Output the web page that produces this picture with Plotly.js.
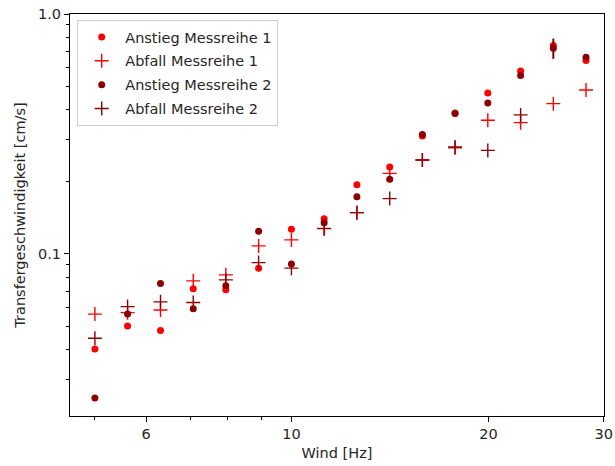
<!DOCTYPE html>
<html>
<head>
<meta charset="utf-8">
<script src="https://cdn.plot.ly/plotly-3.0.1.min.js"></script>
<style>html,body{margin:0;padding:0;background:#fff;}#chart{width:615px;height:466px;}</style>
</head>
<body>
<div id="chart"></div>
<script>
// Wind frequencies [Hz]
const wind = [5.01, 5.62, 6.31, 7.08, 7.94, 8.91, 10.0, 11.22, 12.59, 14.13, 15.85, 17.78, 19.95, 22.39, 25.12, 28.18];
const windAbfall2 = [5.01, 5.62, 6.31, 7.08, 7.94, 8.91, 10.0, 11.22, 12.59, 14.13, 15.85, 17.78, 19.95, 22.39];

// Transfergeschwindigkeit [cm/s]
const anstieg1 = [0.0401, 0.0501, 0.0479, 0.0715, 0.0708, 0.0872, 0.1266, 0.140, 0.1944, 0.2305, 0.310, 0.387, 0.469, 0.579, 0.739, 0.640];
const anstieg1Err = [0, 0, 0, 0, 0, 0, 0, 0, 0, 0, 0, 0, 0, 0, 0.025, 0];
const abfall1 = [0.0561, 0.0569, 0.0584, 0.0772, 0.0818, 0.108, 0.1144, 0.1277, 0.1486, 0.2165, 0.2464, 0.2766, 0.3606, 0.3524, 0.4229, 0.4825];
const anstieg2 = [0.0251, 0.0562, 0.0752, 0.0590, 0.0736, 0.1243, 0.0908, 0.135, 0.1732, 0.2048, 0.3147, 0.385, 0.4258, 0.5544, 0.7197, 0.6601];
const anstieg2Err = [0, 0, 0, 0, 0, 0, 0, 0, 0, 0, 0, 0, 0, 0, 0.07, 0];
const abfall2 = [0.0445, 0.0603, 0.0631, 0.0627, 0.0779, 0.092, 0.0872, 0.1274, 0.1486, 0.170, 0.2464, 0.279, 0.270, 0.3796];

const names = ['Anstieg Messreihe 1', 'Abfall Messreihe 1', 'Anstieg Messreihe 2', 'Abfall Messreihe 2'];
const xTickVals = [6, 10, 20, 30];
const xTickText = ['6', '10', '20', '30'];
const xMinor = [5, 7, 8, 9];
const yTickVals = [0.1, 1];
const yTickText = ['0.1', '1.0'];
const yMinor = [0.03, 0.04, 0.05, 0.06, 0.07, 0.08, 0.09, 0.2, 0.3, 0.4, 0.5, 0.6, 0.7, 0.8, 0.9];

const RED = '#ff0000', DARK = '#8b0000';
const FONT = 'DejaVu Sans, sans-serif';

function dotTrace(x, y, err, name, color, grp) {
  return {
    x: x, y: y, name: name, type: 'scatter', mode: 'markers', legendgroup: grp,
    marker: {symbol: 'circle', size: 7, color: color},
    error_y: {type: 'data', array: err, visible: true, color: color, thickness: 2, width: 0}
  };
}
function plusTrace(x, y, name, color, grp) {
  return {
    x: x, y: y, name: name, type: 'scatter', mode: 'markers', legendgroup: grp,
    marker: {symbol: 'cross-thin', size: 10, color: color, line: {color: color, width: 1.4}}
  };
}

const data = [
  dotTrace(wind, anstieg1, anstieg1Err, names[0], RED, 'a'),
  plusTrace(wind, abfall1, names[1], RED, 'b'),
  dotTrace(wind, anstieg2, anstieg2Err, names[2], DARK, 'c'),
  plusTrace(windAbfall2, abfall2, names[3], DARK, 'd')
];

const axisCommon = {
  type: 'log', showgrid: false, zeroline: false,
  showline: true, linecolor: '#000', linewidth: 1, mirror: true,
  ticks: 'outside', ticklen: 5, tickwidth: 1, tickcolor: '#000',
  tickmode: 'array', ticklabeloverflow: 'allow',
  tickfont: {family: FONT, size: 14.5, color: '#262626'}
};

const layout = {
  width: 615, height: 466,
  margin: {l: 70, r: 11, t: 14, b: 50},
  paper_bgcolor: '#fff', plot_bgcolor: '#fff',
  font: {family: FONT, size: 14.5, color: '#262626'},
  showlegend: true,
  legend: {
    x: 0.0135, y: 0.985, xanchor: 'left', yanchor: 'top',
    bgcolor: 'rgba(255,255,255,0.8)', bordercolor: '#cccccc', borderwidth: 1,
    font: {family: FONT, size: 14.5, color: '#262626'},
    traceorder: 'grouped', tracegroupgap: 2, itemwidth: 37
  },
  xaxis: Object.assign({}, axisCommon, {
    range: [Math.log10(4.59), Math.log10(30.02)],
    tickvals: xTickVals, ticktext: xTickText,
    minor: {tickvals: xMinor, ticks: 'outside', ticklen: 3, tickwidth: 1, tickcolor: '#000', showgrid: false},
    title: {text: 'Wind [Hz]', font: {family: FONT, size: 14.5, color: '#262626'}, standoff: 6}
  }),
  yaxis: Object.assign({}, axisCommon, {
    range: [Math.log10(0.0211), 0],
    tickvals: yTickVals, ticktext: yTickText,
    minor: {tickvals: yMinor, ticks: 'outside', ticklen: 3, tickwidth: 1, tickcolor: '#000', showgrid: false},
    title: {text: 'Transfergeschwindigkeit [cm/s]', font: {family: FONT, size: 14.5, color: '#262626'}, standoff: 8}
  })
};

Plotly.newPlot('chart', data, layout, {displayModeBar: false, staticPlot: true});
</script>
</body>
</html>
